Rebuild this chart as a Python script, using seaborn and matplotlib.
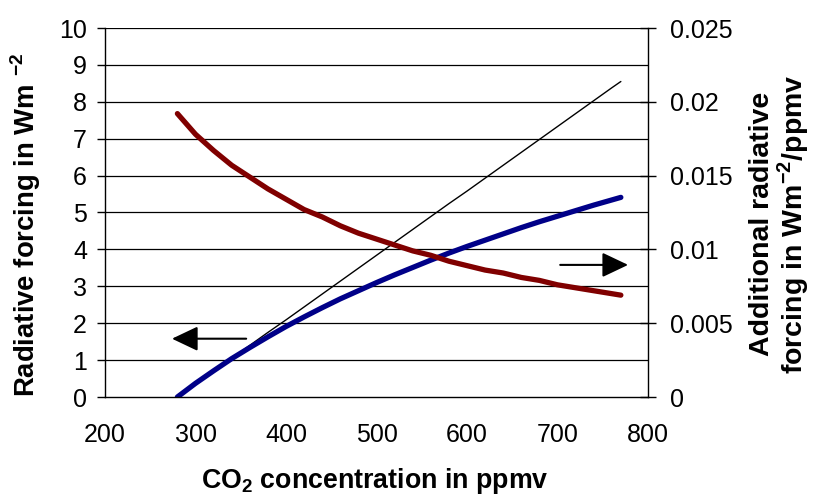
import numpy as np
import pandas as pd
import matplotlib
matplotlib.use("Agg")
import matplotlib.pyplot as plt
import seaborn as sns

# CO2 concentration (ppmv)
co2 = [280, 300, 320, 340, 360, 380, 400, 420, 440, 460, 480, 500, 520, 540,
       560, 580, 600, 620, 640, 660, 680, 700, 720, 740, 760, 770]
# Radiative forcing (W m-2), thick blue
forcing = [0.0, 0.37, 0.71, 1.04, 1.34, 1.63, 1.91, 2.17, 2.42, 2.66, 2.88, 3.10, 3.31,
           3.51, 3.71, 3.90, 4.08, 4.25, 4.42, 4.59, 4.75, 4.90, 5.05, 5.20, 5.34, 5.41]
# Linear extrapolation (W m-2), thin black
linear = [0.0, 0.35, 0.70, 1.05, 1.40, 1.75, 2.09, 2.44, 2.79, 3.14, 3.49, 3.84, 4.19,
          4.54, 4.89, 5.24, 5.58, 5.93, 6.28, 6.63, 6.98, 7.33, 7.68, 8.03, 8.38, 8.55]
# Additional radiative forcing (W m-2 / ppmv), dark red, right axis
additional = [0.0192, 0.0178, 0.0167, 0.0157, 0.0149, 0.0141, 0.0134, 0.0127, 0.0122,
              0.0116, 0.0111, 0.0107, 0.0103, 0.0099, 0.0096, 0.0092, 0.0089, 0.0086,
              0.0084, 0.0081, 0.0079, 0.0076, 0.0074, 0.0072, 0.0070, 0.0069]

left_ticks = list(range(0, 11))
right_ticks = [0, 0.005, 0.01, 0.015, 0.02, 0.025]
right_labels = ["0", "0.005", "0.01", "0.015", "0.02", "0.025"]
x_ticks = [200, 300, 400, 500, 600, 700, 800]

sns.set_theme(style="white")
plt.rcParams['font.family'] = ['Liberation Sans', 'DejaVu Sans']
plt.rcParams['mathtext.fontset'] = 'custom'
plt.rcParams['mathtext.rm'] = 'Liberation Sans'
plt.rcParams['mathtext.bf'] = 'Liberation Sans:bold'
plt.rcParams['text.color'] = 'black'
plt.rcParams['axes.labelcolor'] = 'black'

df = pd.DataFrame({"co2": co2, "forcing": forcing, "linear": linear, "additional": additional})

W, H = 815, 498
fig = plt.figure(figsize=(W / 100, H / 100), dpi=100)
ax = fig.add_axes([105 / W, 1 - 397 / H, 543 / W, 369 / H])
ax2 = ax.twinx()

for v in left_ticks[1:]:
    ax.axhline(v, color="black", lw=0.9, zorder=0)

sns.lineplot(data=df, x="co2", y="linear", ax=ax, color="black", lw=1.0)
sns.lineplot(data=df, x="co2", y="forcing", ax=ax, color="#000088", lw=3.8)
sns.lineplot(data=df, x="co2", y="additional", ax=ax2, color="#800000", lw=3.8)

ax.set_xlim(200, 800)
ax.set_ylim(0, 10)
ax2.set_ylim(0, 0.025)
ax.set_xticks(x_ticks)
ax.set_yticks(left_ticks)
ax2.set_yticks(right_ticks)
ax2.set_yticklabels(right_labels)

for a in (ax, ax2):
    a.spines["top"].set_visible(False)
    for s in ("left", "right", "bottom"):
        a.spines[s].set_color("black")
        a.spines[s].set_linewidth(1.0)
ax.spines["right"].set_visible(False)
ax2.spines["left"].set_visible(False)
ax2.spines["bottom"].set_visible(False)

ax.tick_params(axis="both", which="major", labelsize=18, colors="black",
               length=6, width=1.0, direction="out", pad=7)
ax.tick_params(axis="x", pad=13)
ax2.tick_params(axis="y", labelsize=18, colors="black", length=12, width=1.0,
                direction="inout", pad=10)

ax.set_xlabel("")
ax.set_ylabel("")
ax2.set_ylabel("")

fig.text(375 / W, 1 - 481 / H, "CO$_\\mathbf{2}$ concentration in ppmv", fontsize=19.3,
         fontweight="bold", ha="center", va="center")
fig.text(26 / W, 1 - 225 / H, "Radiative forcing in Wm $^{\\mathbf{-2}}$", fontsize=19.8,
         fontweight="bold", ha="center", va="center", rotation=90)
fig.text(780 / W, 1 - 224 / H, "Additional radiative\nforcing in Wm$^{\\mathbf{-2}}$/ppmv",
         fontsize=20.5, fontweight="bold", ha="center", va="center", rotation=90,
         multialignment="center", linespacing=1.0)

arrow = dict(arrowstyle="-|>,head_length=0.8,head_width=0.38", color="black", lw=1.5,
             mutation_scale=20, shrinkA=0, shrinkB=0)
ax.annotate("", xy=(274, 1.58), xytext=(356, 1.58), arrowprops=arrow)
ax.annotate("", xy=(778, 3.58), xytext=(703, 3.58), arrowprops=arrow)

fig.savefig("out.png", dpi=100)
